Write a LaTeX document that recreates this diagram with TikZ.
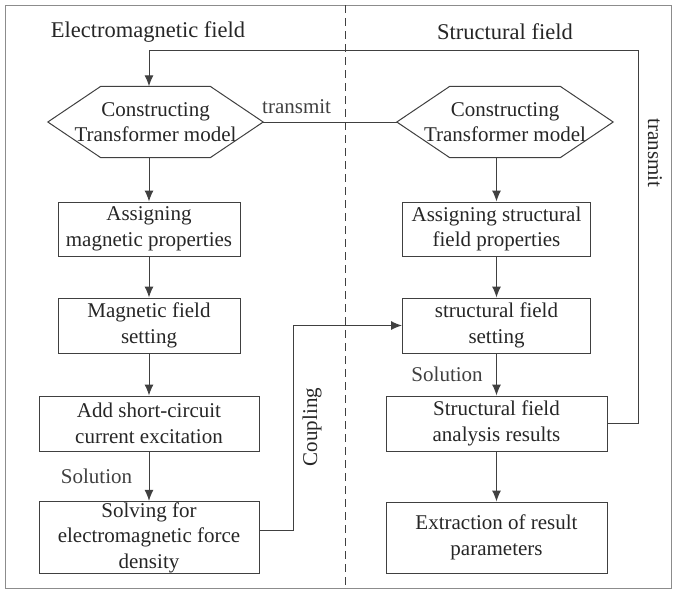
\documentclass[tikz,border=0pt]{standalone}
\usepackage{fontspec}
\setmainfont{Liberation Serif}
\usetikzlibrary{calc,arrows.meta}
\definecolor{linegray}{gray}{0.25}
\def\drawflow{\draw[color=linegray, line width=1pt, -{Latex[length=11pt,width=9pt]}]}
\def\drawplain{\draw[color=linegray, line width=1pt]}
\def\boxnode{\node[draw=linegray, line width=1pt, align=center, inner sep=1pt, text=black!85]}

\begin{document}
\begin{tikzpicture}[x=1pt,y=-1pt,font=\fontsize{21}{25.5}\selectfont,text=black!85]
\useasboundingbox (0,0) rectangle (675,590);
\draw[color=black!45, line width=1pt] (5,5) rectangle (671,588);
\draw[color=linegray, line width=1pt, dash pattern=on 8pt off 5pt] (345,5) -- (345,588); % field separator

% ---------- column titles
\node (emtitle) at (148,32) {\fontsize{22.5}{26}\selectfont Electromagnetic field};
\node (sttitle) at (505,32) {\fontsize{22.5}{26}\selectfont Structural field};

% ---------- the two model hexagons (text node + outline drawn round it)
\node[align=center, minimum width=215, minimum height=71] (lhex) at (155.5,122) {Constructing\\Transformer model};
\node[align=center, minimum width=216, minimum height=71] (rhex) at (505,122) {Constructing\\Transformer model};
\foreach \h in {lhex,rhex}
  \drawplain (\h.west) -- ($ (\h.north west) + (53,0) $) -- ($ (\h.north east) - (53,0) $)
    -- (\h.east) -- ($ (\h.south east) - (53,0) $) -- ($ (\h.south west) + (53,0) $) -- cycle;

% ---------- electromagnetic column
\boxnode[minimum width=182, minimum height=54] (lb1) at (149,229) {Assigning\\magnetic properties};
\boxnode[minimum width=182, minimum height=55] (lb2) at (149,325.5) {Magnetic field\\setting};
\boxnode[minimum width=220, minimum height=55] (lb3) at (149,423.5) {Add short-circuit\\current excitation};
\boxnode[minimum width=220, minimum height=71] (lb4) at (149,537.5) {Solving for\\electromagnetic force\\density};

% ---------- structural column
\boxnode[minimum width=188, minimum height=54] (rb1) at (496.5,229) {Assigning structural\\field properties};
\boxnode[minimum width=188, minimum height=55] (rb2) at (496.5,325.5) {structural field\\setting};
\boxnode[minimum width=221, minimum height=55] (rb3) at (496.5,423.5) {Structural field\\analysis results};
\boxnode[minimum width=221, minimum height=71] (rb4) at (496.5,537.5) {Extraction of result\\parameters};

% ---------- flow down each column
\drawflow (lhex.south -| lb1.north) -- (lb1.north);
\drawflow (lb1) -- (lb2);
\drawflow (lb2) -- (lb3);
\drawflow (lb3) -- node[midway, left, xshift=-13] (lsol) {Solution} (lb4);
\drawflow (rhex.south -| rb1.north) -- (rb1.north);
\drawflow (rb1) -- (rb2);
\drawflow (rb2) -- node[midway, left, xshift=-10] (rsol) {Solution} (rb3);
\drawflow (rb3) -- (rb4);

% ---------- transmit between the hexagons
\drawplain (lhex.east) -- node[pos=0.25, above=4pt] (tlab) {transmit} (rhex.west);

% ---------- coupling: force density into structural setting
\coordinate (cplB) at (293,530);
\drawflow (lb4.east |- cplB) -- (cplB) |- (rb2.west);
\node[rotate=90] (clab) at (312,427) {Coupling};

% ---------- results back to the model (the big loop)
\coordinate (loopR) at (638,50);
\drawflow (rb3.east) -| (loopR) -| (lhex.north -| lb1.north);
\node[rotate=-90] (rlab) at (655,153) {transmit};
\end{tikzpicture}
\end{document}
